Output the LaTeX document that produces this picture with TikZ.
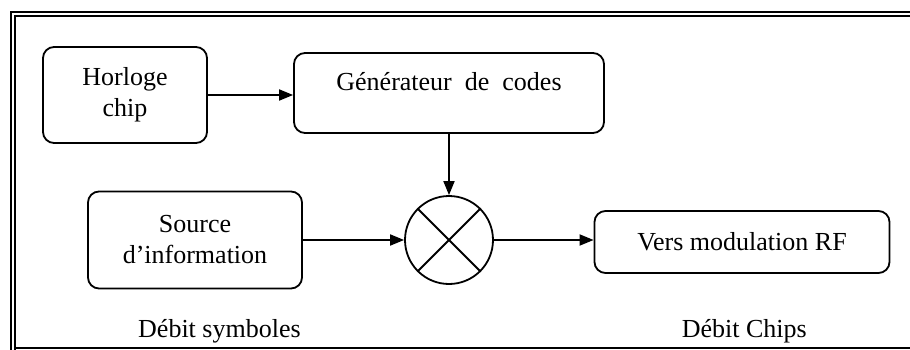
\documentclass[tikz,border=0pt]{standalone}
\usepackage{fontspec}
\setmainfont{Liberation Serif}
\usetikzlibrary{arrows.meta}

\begin{document}
\begin{tikzpicture}[x=1pt, y=-1pt, >={Triangle[length=14pt,width=11pt]}]
        \tikzstyle{every node}=[inner sep=2pt, font=\fontsize{26}{31}\selectfont]
        \tikzstyle{bloc}=[draw, line width=1.8pt, rounded corners=11pt, align=center]
        \tikzstyle{fleche}=[->, line width=1.8pt]
        \useasboundingbox (0,0) rectangle (910,350);
        % cadre
        \draw[line width=2.4pt] (910,12) -- (11,12) -- (11,350);
        \draw[line width=1.3pt] (910,16) -- (15,16) -- (15,350);
        \draw[line width=1.6pt] (15,348) -- (910,348);
        % blocs
        \node [bloc, minimum width=164pt, minimum height=96pt] (hor) at (125,95) {Horloge\\chip};
        \node [bloc, minimum width=310pt, minimum height=80pt, text height=18pt, text depth=22pt] (gen) at (449,93) {Générateur\ \ de\ \ codes};
        \node [bloc, minimum width=214pt, minimum height=97pt] (src) at (195,240) {Source\\d’information};
        \node [draw, circle, line width=1.8pt, minimum size=88pt] (mul) at (449,240) {};
        \node [bloc, minimum width=295pt, minimum height=62pt] (vers) at (742,242) {Vers modulation RF};
        \draw [line width=1.8pt] (mul.45) -- (mul.225) (mul.135) -- (mul.-45);
        % liaisons
        \draw [fleche] (hor.east) -- (hor.east -| gen.west);
        \draw [fleche] (gen.south) -- (mul.north);
        \draw [fleche] (src.east) -- (mul.west);
        \draw [fleche] (mul.east) -- (mul.east -| vers.west);
        % debits
        \node [anchor=base west, inner sep=0pt] (dsym) at (138,337) {Débit symboles};
        \node [anchor=base east, inner sep=0pt] (dchip) at (807,337) {Débit Chips};
    \end{tikzpicture}
\end{document}
